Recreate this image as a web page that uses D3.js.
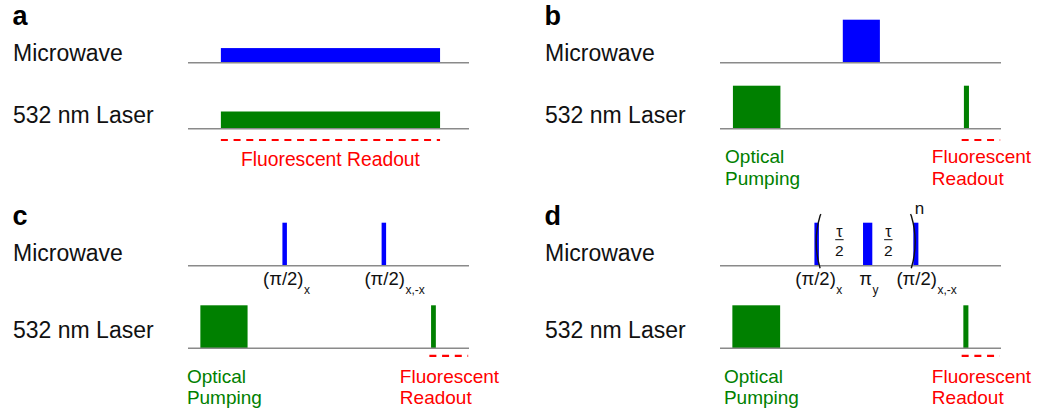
<!DOCTYPE html>
<html>
<head>
<meta charset="utf-8">
<script src="https://cdn.jsdelivr.net/npm/d3@7"></script>
<style>
  html, body { margin: 0; padding: 0; background: #fff; }
  svg { display: block; }
  text { font-family: "Liberation Sans", Arial, Helvetica, sans-serif; }
</style>
</head>
<body>
<svg id="chart" width="1042" height="416"></svg>
<script>
// ---- Sequence data (time in arbitrary units 0–100, amplitude relative 0–1) ----
const panelLetters = ["a", "b", "c", "d"];
const rowNames = ["Microwave", "532 nm Laser"];

// a: continuous-wave ODMR
const mwA    = [{ t0: 11.7, t1: 89.7, amp: 0.34 }];
const laserA = [{ t0: 11.7, t1: 89.7, amp: 0.40 }];
const readoutA = [11.7, 89.7];

// b: pulsed ODMR / Rabi
const mwB    = [{ t0: 43.7, t1: 56.9, amp: 1 }];
const laserB = [{ t0: 4.6, t1: 21.5, amp: 1 }, { t0: 86.8, t1: 88.6, amp: 1 }];
const readoutB = [86.0, 99.7];

// c: Ramsey
const mwC    = [{ t0: 33.6, t1: 35.2, amp: 1 }, { t0: 68.9, t1: 70.5, amp: 1 }];
const laserC = [{ t0: 4.4, t1: 21.2, amp: 1 }, { t0: 86.5, t1: 88.2, amp: 1 }];
const readoutC = [85.9, 99.7];
const pulseLabelsC = [
  { t: 33.9, main: "(π/2)", sub: "x" },
  { t: 70.0, main: "(π/2)", sub: "x,-x" }
];

// d: Hahn echo / dynamical decoupling
const mwD    = [{ t0: 33.6, t1: 35.2, amp: 1 }, { t0: 50.9, t1: 54.2, amp: 1 }, { t0: 68.8, t1: 70.6, amp: 1 }];
const laserD = [{ t0: 4.4, t1: 21.4, amp: 1 }, { t0: 86.6, t1: 88.4, amp: 1 }];
const readoutD = [86.0, 99.6];
const pulseLabelsD = [
  { t: 34.0, main: "(π/2)", sub: "x" },
  { t: 51.8, main: "π", sub: "y" },
  { t: 70.0, main: "(π/2)", sub: "x,-x" }
];
const tauLabelsD = [42.5, 59.9];
const bracketsD = [{ t: 34.2, side: "left" }, { t: 69.5, side: "right" }];
const repeatLabelD = "n";

// annotations under the laser row
const pumpLabel = ["Optical", "Pumping"];
const readoutLabel = ["Fluorescent", "Readout"];
const pumpLabelT = { b: 1.8, c: -0.4, d: 1.4 };
const readoutLabelT = 75.4;

// ---- Colours ----
const BLUE = "#0000ff", GREEN = "#008000", RED = "#ff0000", GRAY = "#8a8a8a";

// ---- Layout ----
const svg = d3.select("#chart");
const columns = [
  { labelX: 13, range: [188, 469] },
  { labelX: 545, range: [720, 1001] }
];
const tiers = [
  { letterY: 25, mwLine: 62.7, laserLine: 128.7, mwText: 61, laserText: 123.3, dashOff: 11.3 },
  { letterY: 225, mwLine: 265.7, laserLine: 348.3, mwText: 261, laserText: 338.3, dashOff: 7.6 }
];
const amp = d3.scaleLinear().domain([0, 1]).range([0, 43]);

const panels = [
  { key: "a", col: 0, tier: 0, mw: mwA, laser: laserA, readout: readoutA },
  { key: "b", col: 1, tier: 0, mw: mwB, laser: laserB, readout: readoutB },
  { key: "c", col: 0, tier: 1, mw: mwC, laser: laserC, readout: readoutC, labels: pulseLabelsC },
  { key: "d", col: 1, tier: 1, mw: mwD, laser: laserD, readout: readoutD, labels: pulseLabelsD }
];

panels.forEach(p => {
  const col = columns[p.col], tier = tiers[p.tier];
  const x = d3.scaleLinear().domain([0, 100]).range(col.range);
  const g = svg.append("g").attr("class", "panel-" + p.key);

  // panel letter
  g.append("text")
    .attr("x", col.labelX - 0.5).attr("y", tier.letterY)
    .attr("font-size", 27).attr("font-weight", "bold").attr("fill", "#000")
    .text(panelLetters.indexOf(p.key) >= 0 ? p.key : "");

  // row names
  g.append("text").attr("x", col.labelX).attr("y", tier.mwText)
    .attr("font-size", 23).attr("fill", "#111").text(rowNames[0]);
  g.append("text").attr("x", col.labelX).attr("y", tier.laserText)
    .attr("font-size", 23).attr("fill", "#111").text(rowNames[1]);

  // pulses
  const drawPulses = (data, base, color) => {
    g.selectAll(null).data(data).join("rect")
      .attr("x", d => x(d.t0))
      .attr("width", d => x(d.t1) - x(d.t0))
      .attr("y", d => base - amp(d.amp))
      .attr("height", d => amp(d.amp))
      .attr("fill", color);
  };
  drawPulses(p.mw, tier.mwLine, BLUE);
  drawPulses(p.laser, tier.laserLine, GREEN);

  // time axes (baselines)
  [tier.mwLine, tier.laserLine].forEach(y => {
    g.append("line")
      .attr("x1", x(0)).attr("x2", x(100))
      .attr("y1", y).attr("y2", y)
      .attr("stroke", GRAY).attr("stroke-width", 1.5);
  });

  // readout window (dashed)
  g.append("line")
    .attr("x1", x(p.readout[0])).attr("x2", x(p.readout[1]))
    .attr("y1", tier.laserLine + tier.dashOff).attr("y2", tier.laserLine + tier.dashOff)
    .attr("stroke", RED).attr("stroke-width", 2.2)
    .attr("stroke-dasharray", "7,5.7");

  if (p.key === "a") {
    g.append("text")
      .attr("x", x((p.readout[0] + p.readout[1]) / 2))
      .attr("y", tier.laserLine + 37.3)
      .attr("text-anchor", "middle").attr("font-size", 19.3).attr("fill", RED)
      .text(readoutLabel.join(" "));
  } else {
    pumpLabel.forEach((s, i) => {
      g.append("text").attr("x", x(pumpLabelT[p.key])).attr("y", tier.laserLine + 34.6 + i * 21.2)
        .attr("font-size", 19).attr("fill", GREEN).text(s);
    });
    readoutLabel.forEach((s, i) => {
      g.append("text").attr("x", x(readoutLabelT)).attr("y", tier.laserLine + 34.6 + i * 21.2)
        .attr("font-size", 19).attr("fill", RED).text(s);
    });
  }

  // pulse names under the microwave row
  if (p.labels) {
    p.labels.forEach(l => {
      const main = g.append("text")
        .attr("x", x(l.t)).attr("y", tier.mwLine + 19.6)
        .attr("text-anchor", "middle").attr("font-size", 18.5).attr("fill", "#111")
        .text(l.main);
      const w = main.node().getComputedTextLength();
      g.append("text")
        .attr("x", x(l.t) + w / 2 + 0.5).attr("y", tier.mwLine + 28)
        .attr("font-size", 12).attr("fill", "#111")
        .text(l.sub);
    });
  }

  // echo block in d: brackets, τ/2 spacings, repeat count
  if (p.key === "d") {
    const top = tier.mwLine - 50, bot = tier.mwLine + 2.6;
    bracketsD.forEach(b => {
      const xo = x(b.t);
      const s = b.side === "left" ? 1 : -1;
      const xe = xo + s * 4;
      const cx = xo - s * 3.8;
      const path = d3.path();
      path.moveTo(xe + s * 0.8, top - 1.5);
      path.lineTo(xe, top);
      path.quadraticCurveTo(cx, (top + bot) / 2, xe, bot);
      g.append("path").attr("d", path.toString())
        .attr("fill", "none").attr("stroke", "#111").attr("stroke-width", 1.4);
    });
    tauLabelsD.forEach(t => {
      const cxp = x(t);
      const fy = tier.mwLine - 26;
      g.append("text").attr("x", cxp).attr("y", fy - 2.6)
        .attr("text-anchor", "middle").attr("font-size", 16)
        .attr("font-family", "Liberation Serif, Times New Roman, serif").attr("fill", "#111")
        .text("τ");
      g.append("line").attr("x1", cxp - 4.2).attr("x2", cxp + 4.2)
        .attr("y1", fy).attr("y2", fy)
        .attr("stroke", "#111").attr("stroke-width", 1);
      g.append("text").attr("x", cxp).attr("y", fy + 16)
        .attr("text-anchor", "middle").attr("font-size", 15.5)
        .attr("font-family", "Liberation Serif, Times New Roman, serif").attr("fill", "#111")
        .text("2");
    });
    g.append("text").attr("x", x(bracketsD[1].t) - 0.5).attr("y", tier.mwLine - 52)
      .attr("font-size", 17).attr("fill", "#111").text(repeatLabelD);
  }
});
</script>
</body>
</html>
